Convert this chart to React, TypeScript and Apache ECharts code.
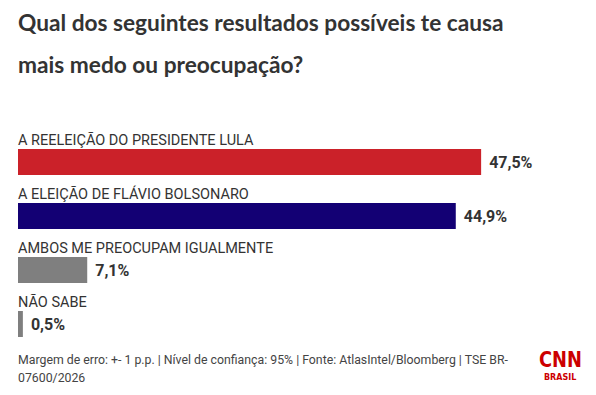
import React, { useEffect, useRef } from "react";
import * as echarts from "echarts";

const titleLines = ["Qual dos seguintes resultados possíveis te causa", "mais medo ou preocupação?"];
const categories = [
  "A REELEIÇÃO DO PRESIDENTE LULA",
  "A ELEIÇÃO DE FLÁVIO BOLSONARO",
  "AMBOS ME PREOCUPAM IGUALMENTE",
  "NÃO SABE",
];
const values = [47.5, 44.9, 7.1, 0.5];
const colors = ["#CB2129", "#130074", "#7F7F7F", "#7F7F7F"];
const footerLines = [
  "Margem de erro: +- 1 p.p. | Nível de confiança: 95% | Fonte: AtlasIntel/Bloomberg | TSE BR-",
  "07600/2026",
];

export default function App() {
  const ref = useRef<HTMLDivElement>(null);
  useEffect(() => {
    document.body.style.margin = "0";
    const chart = echarts.init(ref.current!, null, { renderer: "svg" });
    chart.setOption({
      animation: false,
      backgroundColor: "#ffffff",
      title: {
        text: titleLines.join("\n"),
        left: 18,
        top: 1,
        padding: 0,
        textStyle: {
          fontFamily: "Lato, sans-serif",
          fontWeight: "bold",
          fontSize: 22.7,
          lineHeight: 42,
          color: "#333333",
        },
      },
      grid: { left: 18, width: 487.5, top: 135, height: 216 },
      xAxis: { type: "value", min: 0, max: 50, show: false },
      yAxis: {
        type: "category",
        inverse: true,
        data: categories,
        axisLine: { show: false },
        axisTick: { show: false },
        splitLine: { show: false },
        axisLabel: { show: false },
      },
      series: [
        {
          type: "bar",
          barWidth: 26,
          data: values.map((v, i) => ({ value: v, itemStyle: { color: colors[i] } })),
          label: {
            show: true,
            position: "right",
            distance: 8,
            fontFamily: "Roboto, sans-serif",
            fontWeight: "bold",
            fontSize: 16,
            color: "#333333",
            formatter: (p: any) => String(p.value).replace(".", ",") + "%",
          },
        },
        {
          type: "bar",
          barWidth: 26,
          barGap: "-100%",
          silent: true,
          itemStyle: { color: "rgba(0,0,0,0)" },
          data: values,
          label: {
            show: true,
            position: [0, -9],
            align: "left",
            verticalAlign: "middle",
            fontFamily: "Roboto, sans-serif",
            fontSize: 14.5,
            color: "#333333",
            formatter: (p: any) => categories[p.dataIndex],
          },
        },
      ],
      graphic: [
        {
          type: "text",
          left: 18,
          top: 351,
          style: {
            text: footerLines.join("\n"),
            fontFamily: "Roboto, sans-serif",
            fontSize: 12.3,
            lineHeight: 18,
            fill: "#444444",
          },
        },
        {
          type: "text",
          x: 539,
          y: 349,
          scaleX: 0.85,
          style: {
            text: "CNN",
            fontFamily: "'DejaVu Sans', sans-serif",
            fontWeight: "bold",
            fontSize: 21,
            fill: "#CC0000",
          },
        },
        {
          type: "text",
          left: 544,
          top: 373,
          style: {
            text: "BRASIL",
            fontFamily: "'DejaVu Sans', sans-serif",
            fontWeight: "bold",
            fontSize: 8,
            fill: "#CC0000",
          },
        },
      ],
    });
    return () => chart.dispose();
  }, []);
  return <div ref={ref} style={{ width: 596, height: 395 }} />;
}
